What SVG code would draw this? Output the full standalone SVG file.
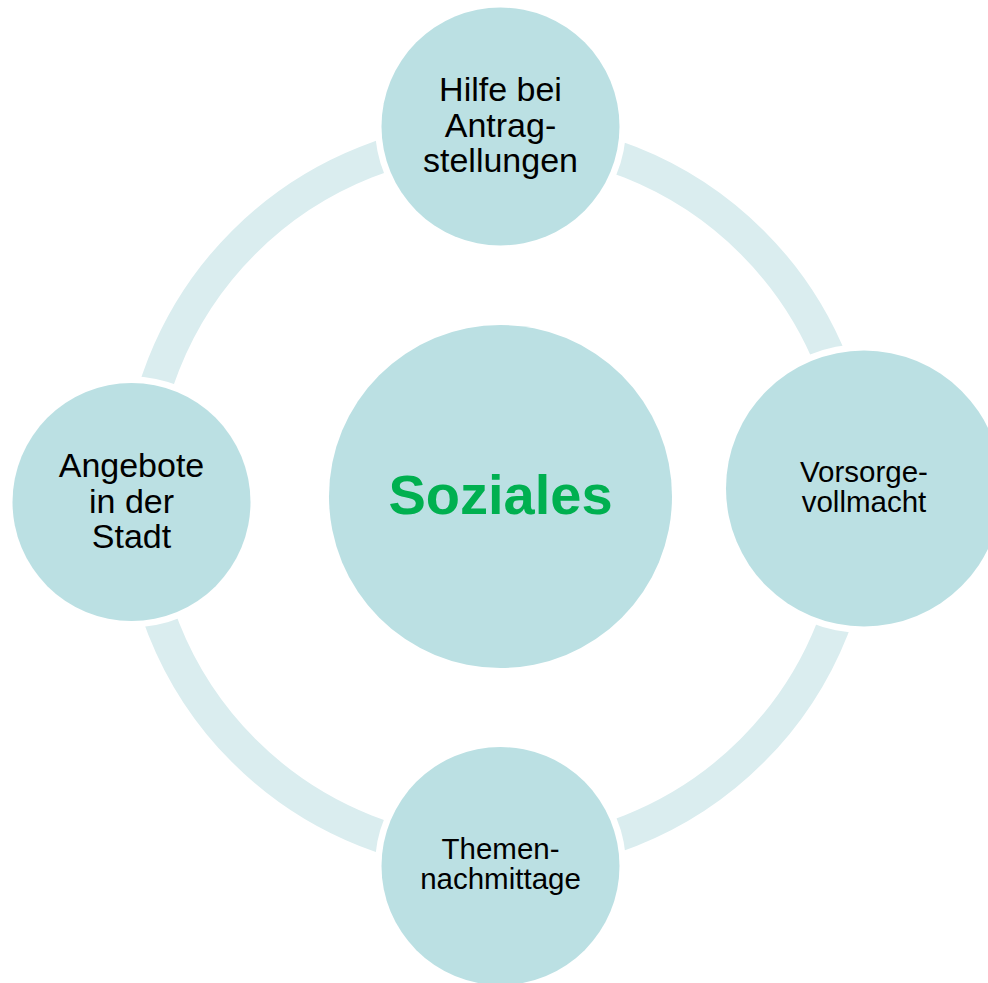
<svg xmlns="http://www.w3.org/2000/svg" width="988" height="983" viewBox="0 0 988 983">
  <style>
    .node { fill: #bbe0e3; }
    .halo { fill: #ffffff; }
    .lbl { font-family: "Liberation Sans", Arial, sans-serif; fill: #000000; text-anchor: middle; }
    .big { font-size: 34px; }
    .small { font-size: 29.5px; }
    .center { font-family: "Liberation Sans", Arial, sans-serif; font-weight: bold; font-size: 56px; fill: #00b050; text-anchor: middle; }
  </style>
  <rect width="988" height="983" fill="#ffffff"/>
  <g id="connectors">
    <circle cx="498" cy="496.5" r="359.5" fill="none" stroke="#daedef" stroke-width="33"/>
  </g>
  <g id="node-center">
    <circle class="node" cx="500.5" cy="496.5" r="171.5"/>
    <text class="center" x="500.5" y="514">Soziales</text>
  </g>
  <g id="node-top">
    <circle class="halo" cx="500.5" cy="126.5" r="125.5"/>
    <circle class="node" cx="500.5" cy="126.5" r="119"/>
    <text class="lbl big" x="500.5" y="101">Hilfe bei</text>
    <text class="lbl big" x="500.5" y="137">Antrag-</text>
    <text class="lbl big" x="500.5" y="172">stellungen</text>
  </g>
  <g id="node-right">
    <circle class="halo" cx="864" cy="488.5" r="144.5"/>
    <circle class="node" cx="864" cy="488.5" r="138"/>
    <text class="lbl small" x="864" y="482">Vorsorge-</text>
    <text class="lbl small" x="864" y="512">vollmacht</text>
  </g>
  <g id="node-bottom">
    <circle class="halo" cx="500.5" cy="866" r="125.5"/>
    <circle class="node" cx="500.5" cy="866" r="119"/>
    <text class="lbl small" x="500.5" y="859">Themen-</text>
    <text class="lbl small" x="500.5" y="889">nachmittage</text>
  </g>
  <g id="node-left">
    <circle class="halo" cx="131.5" cy="502" r="125.5"/>
    <circle class="node" cx="131.5" cy="502" r="119"/>
    <text class="lbl big" x="131.5" y="477">Angebote</text>
    <text class="lbl big" x="131.5" y="512.5">in der</text>
    <text class="lbl big" x="131.5" y="547.5">Stadt</text>
  </g>
</svg>
